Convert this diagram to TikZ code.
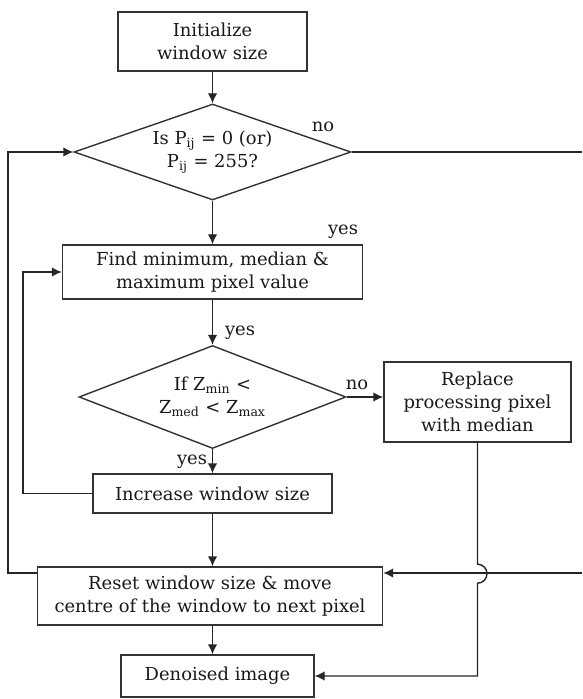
\documentclass[tikz,border=0pt]{standalone}
\usepackage{fontspec}
\setmainfont{DejaVu Serif}
\usetikzlibrary{shapes.geometric, arrows.meta}

\begin{document}
\begin{tikzpicture}[
    >={Latex[length=2mm, width=1.9mm]},
    every node/.style={font=\fontsize{10.2}{13}\selectfont, text=black!90},
    box/.style={draw=black!80, line width=0.8pt, align=center, inner sep=0pt},
    test/.style={draw=black!80, diamond, line width=0.8pt, align=center, inner sep=0pt, aspect=2.8},
    line/.style={line width=0.8pt, draw=black!85}
  ]
    \useasboundingbox (0, 0) rectangle (11.64, -13.98);

    % main column
    \node [box, minimum width=3.78cm, minimum height=1.18cm] (init) at (4.25, -0.83) {Initialize\\window size};
    \node [test, minimum width=5.54cm, minimum height=1.92cm] (check) at (4.25, -3.04) {Is P\textsubscript{ij} = 0 (or)\\P\textsubscript{ij} = 255?};
    \node [box, minimum width=6.0cm, minimum height=1.08cm] (find) at (4.25, -5.44) {Find minimum, median \&\\maximum pixel value};
    \node [test, minimum width=5.34cm, minimum height=2.06cm] (cmp) at (4.25, -7.94) {If Z\textsubscript{min} <\\Z\textsubscript{med} < Z\textsubscript{max}};
    \node [box, minimum width=3.74cm, minimum height=1.6cm] (repl) at (9.55, -8.04) {Replace\\processing pixel\\with median};
    \node [box, minimum width=4.78cm, minimum height=0.78cm] (incr) at (4.25, -9.87) {Increase window size};
    \node [box, minimum width=6.9cm, minimum height=1.16cm] (reset) at (4.2, -11.92) {Reset window size \& move\\centre of the window to next pixel};
    \node [box, minimum width=3.86cm, minimum height=0.84cm] (out) at (4.35, -13.52) {Denoised image};

    % labels
    \node (no1) at (6.46, -2.54) {no};
    \node (yes1) at (6.86, -4.64) {yes};
    \node (yes2) at (4.8, -6.66) {yes};
    \node (no2) at (7.14, -7.7) {no};
    \node (yes3) at (3.84, -9.24) {yes};

    % loose ends and corners
    \coordinate (e1) at (11.64, -3.04);
    \coordinate (e2) at (11.64, -11.46);
    \coordinate (l1) at (0.16, -11.46);
    \coordinate (l2) at (0.46, -9.87);

    \draw [line, ->] (init) -- (check);
    \draw [line] (check.east) -- (e1);
    \draw [line, ->] (check) -- (find);
    \draw [line, ->] (find) -- (cmp);
    \draw [line, ->] (cmp.east) -- (cmp.east -| repl.west);
    \draw [line, ->] (cmp) -- (incr);
    \draw [line, ->] (incr.west) -- (l2) |- (find.west);
    \draw [line, ->] (incr) -- (incr |- reset.north);
    \draw [line, ->] (l1 -| reset.west) -- (l1) |- (check.west);
    \draw [line, ->] (e2) -- (e2 -| reset.east);
    \draw [line, ->] (repl.south) -- ++(0, -2.43) arc [start angle=90, end angle=-90, radius=0.19] |- (out.east);
    \draw [line, ->] (incr.south |- reset.south) -- (incr.south |- out.north);
\end{tikzpicture}
\end{document}
